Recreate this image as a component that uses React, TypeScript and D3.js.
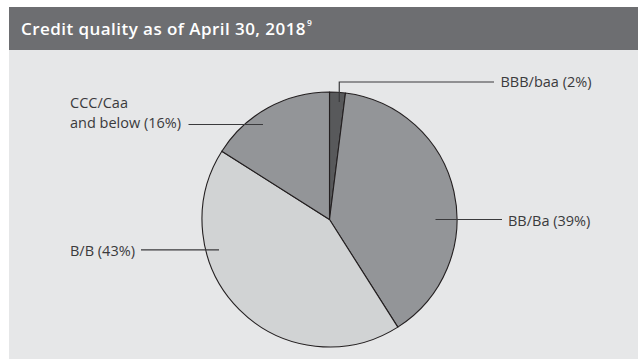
import React from "react";
import * as d3 from "d3";

const categories = ["BBB/baa", "BB/Ba", "B/B", "CCC/Caa and below"];
const values = [2, 39, 43, 16];
const labelLines = [["BBB/baa (2%)"], ["BB/Ba (39%)"], ["B/B (43%)"], ["CCC/Caa", "and below (16%)"]];
const sliceColors = ["#58595b", "#939598", "#d1d3d4", "#939598"];
const titleText = "Credit quality as of April 30, 2018";
const titleNote = "9";

// layout for leader lines: anchor angle (deg, clockwise from top), anchor radius,
// label x, label y (first line center), and line end x
const leaderLayout = [
  { angle: 4.75, r: 118, elbowY: 82, endX: 494, textX: 500.5, textY: 82, anchor: "start" },
  { angle: 90, r: 106, elbowY: null, endX: 502, textX: 508, textY: 220.5, anchor: "start" },
  { angle: 254.6, r: 114.6, elbowY: null, endX: 141, textX: 70, textY: 250.5, anchor: "start" },
  { angle: 325, r: 116, elbowY: null, endX: 188.5, textX: 70, textY: 103, anchor: "start" },
];

const W = 638;
const H = 359;
const cx = 329.5;
const cy = 219.5;
const R = 127.5;

export default function App() {
  const pie = d3.pie<number>().sort(null).value((d) => d)(values);
  const arc = d3.arc<d3.PieArcDatum<number>>().innerRadius(0).outerRadius(R);
  const font = "'Open Sans', sans-serif";

  return (
    <svg width={W} height={H} style={{ position: "absolute", left: 0, top: 0 }}>
      <rect x={0} y={0} width={W} height={H} fill="#ffffff" />
      <rect x={9} y={50} width={W - 9} height={H - 50} fill="#e6e7e8" />
      <rect x={9} y={7} width={W - 9} height={43} fill="#6d6e71" />
      <text x={21} y={35} fill="#ffffff" fontFamily={font} fontWeight={600} fontSize={17} letterSpacing={0.45}>
        {titleText}
        <tspan fontSize={8.5} dy={-9} dx={1}>
          {titleNote}
        </tspan>
      </text>
      <g transform={`translate(${cx},${cy})`}>
        {pie.map((p, i) => (
          <path key={categories[i]} d={arc(p) || ""} fill={sliceColors[i]} stroke="#231f20" strokeWidth={1.1} strokeLinejoin="round" />
        ))}
      </g>
      {leaderLayout.map((l, i) => {
        const a = (l.angle * Math.PI) / 180;
        const x0 = cx + l.r * Math.sin(a);
        const y0 = cy - l.r * Math.cos(a);
        let d: string;
        if (l.elbowY !== null) {
          d = `M${x0},${y0}V${l.elbowY}H${l.endX}`;
        } else {
          d = `M${x0},${y0}H${l.endX}`;
        }
        return <path key={"l" + i} d={d} fill="none" stroke="#3a3a3c" strokeWidth={1.2} />;
      })}
      {leaderLayout.map((l, i) => (
        <text key={"t" + i} fontFamily={font} fontSize={14.5} fill="#3a3a3c" textAnchor={l.anchor as any}>
          {labelLines[i].map((s, j) => (
            <tspan key={j} x={l.textX} y={l.textY + j * 20.3} dy="0.35em">
              {s}
            </tspan>
          ))}
        </text>
      ))}
    </svg>
  );
}
